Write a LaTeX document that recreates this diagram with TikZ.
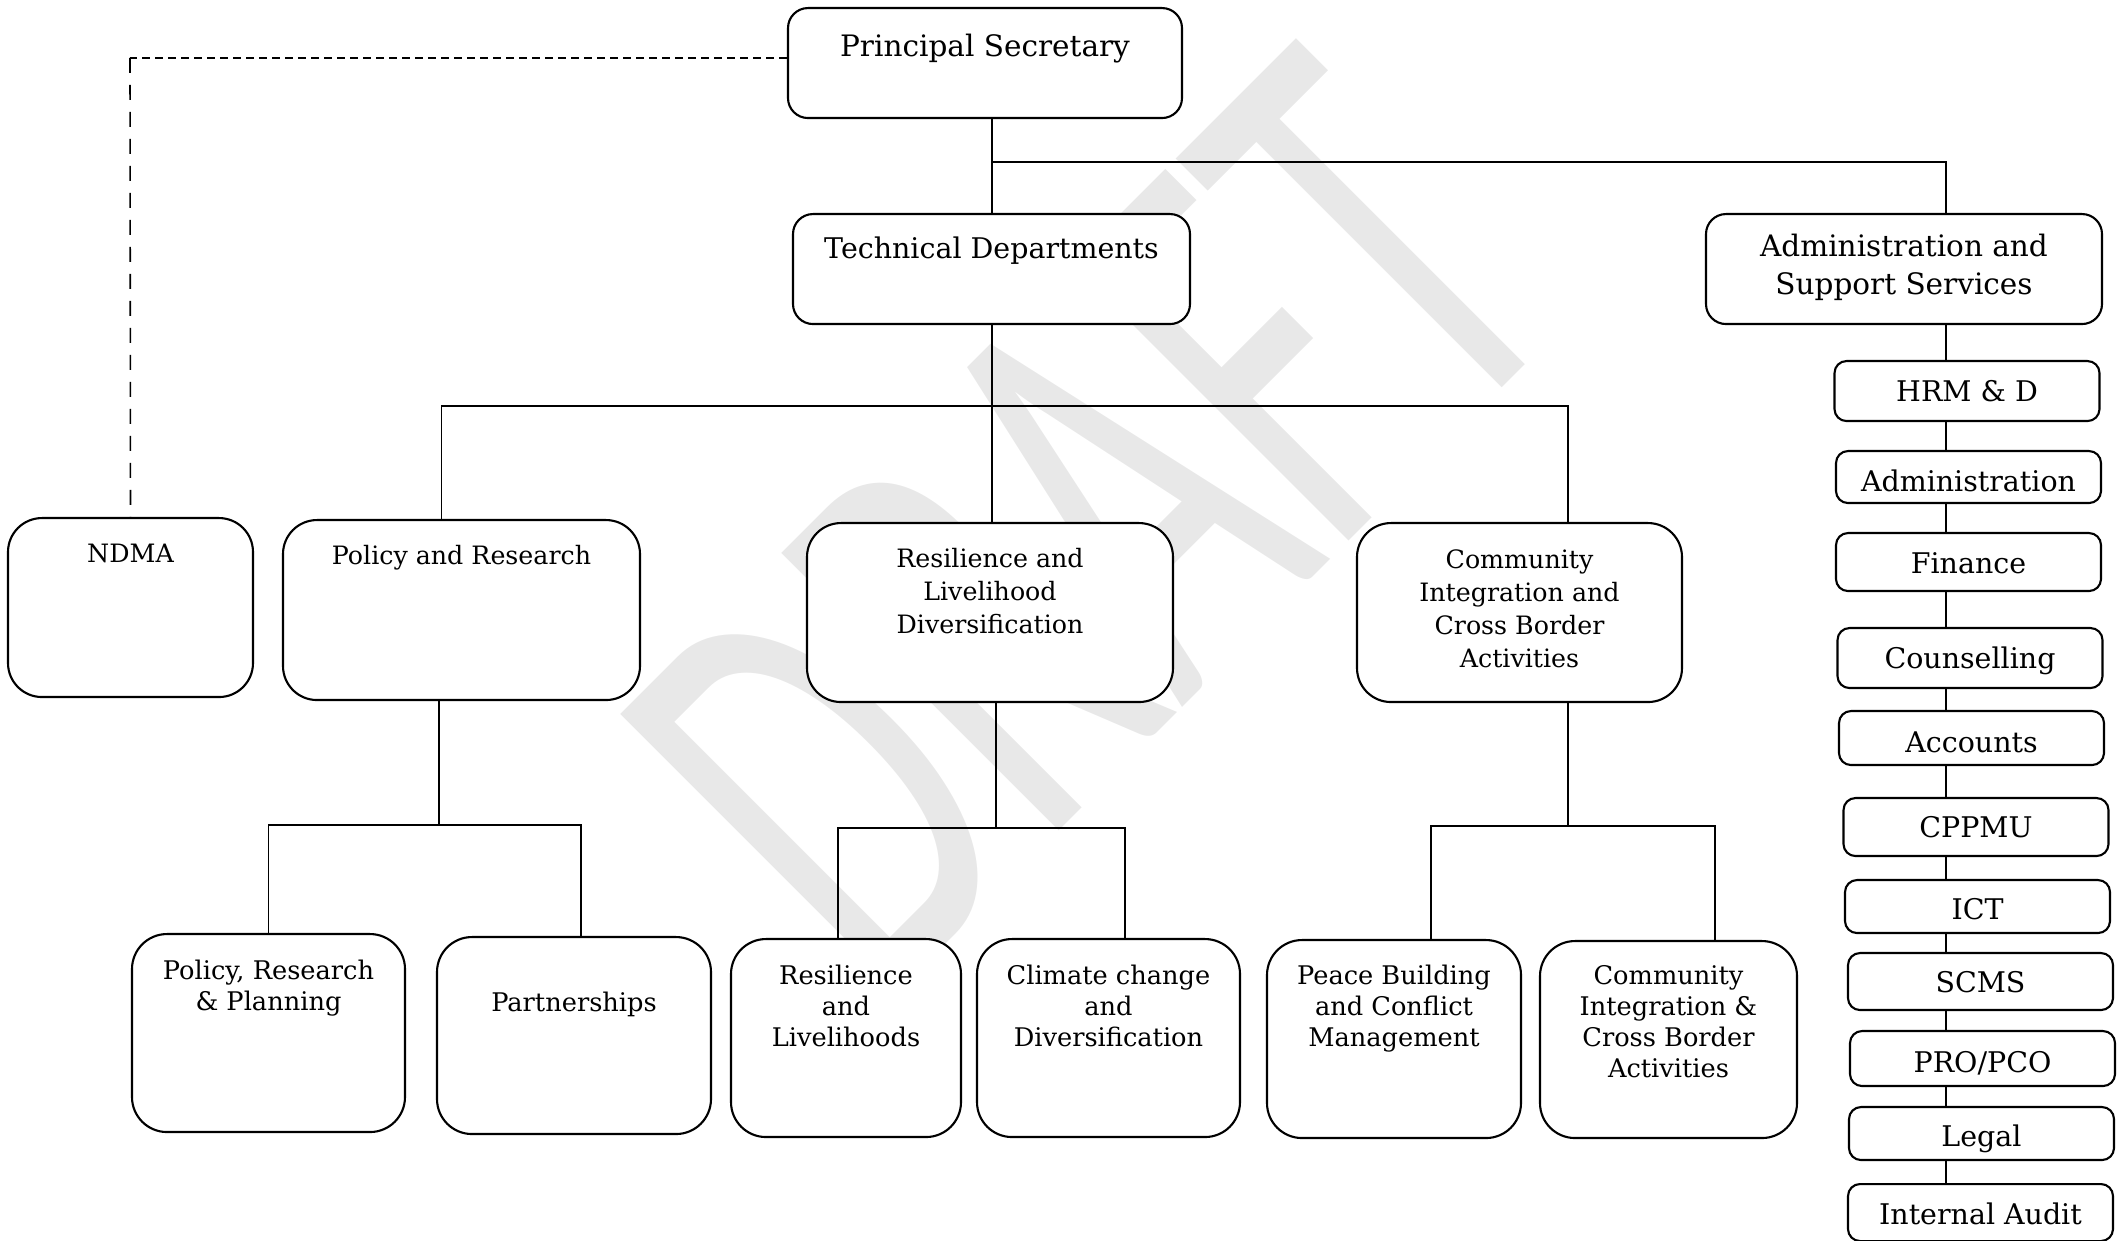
\documentclass[tikz,border=0pt]{standalone}
\usepackage{fontspec}
\setmainfont{DejaVu Serif}
\newfontfamily\wmfont{Carlito}

% lines hang from the first baseline
\newcommand{\boxtext}[1]{\begin{tabular}[t]{@{}c@{}}#1\end{tabular}}

\tikzset{
  topbox/.style={draw, fill=white, line width=0.6pt, rounded corners=2mm, anchor=north, inner sep=0pt,
    font=\fontsize{8.4}{10.8}\selectfont},
  midbox/.style={topbox, rounded corners=3.4mm, font=\fontsize{7.2}{9.4}\selectfont},
  lowbox/.style={topbox, rounded corners=3.5mm, font=\fontsize{7.3}{8.9}\selectfont},
  unit/.style={draw, fill=white, line width=0.6pt, rounded corners=1.2mm, anchor=north, inner sep=0pt, minimum width=26.5mm, font=\fontsize{8.1}{9}\selectfont},
}

\begin{document}
\begin{tikzpicture}[x=0.1mm, y=-0.1mm, line width=0.45pt]
    \useasboundingbox (0,0) rectangle (2119,1241);
    % Watermark
    \node[rotate=45, xscale=0.6, anchor=base, inner sep=0pt, text=black!9, font=\wmfont\fontsize{174}{174}\selectfont] (wm) at (1229,661) {DRAFT};
    % Connectors
    \coordinate (nd) at (130,58);
    \coordinate (spine) at (1946,0);
    \coordinate (j1) at (992,162);
    \coordinate (j2) at (992,406);
    \coordinate (j3) at (439,825);
    \coordinate (j4) at (996,828);
    \coordinate (j5) at (1568,826);
    % Top level
    \node[topbox, minimum width=39.4mm, text height=4.8mm, text depth=6.2mm] (ps) at (985,7) {Principal Secretary};
    \node[topbox, minimum width=39.7mm, text height=4.4mm, text depth=6.6mm, font=\fontsize{8.1}{10.8}\selectfont] (td) at (991.5,213) {Technical Departments};
    \node[topbox, minimum width=39.6mm, text height=4.2mm, text depth=6.8mm] (ass) at (1904,213) {\boxtext{Administration and\\Support Services}};
    % Departments
    \node[midbox, minimum width=24.5mm, text height=4.4mm, text depth=13.5mm] (ndma) at (130.5,517) {NDMA};
    \node[midbox, minimum width=35.7mm, text height=4.4mm, text depth=13.6mm] (pr) at (461.5,519) {Policy and Research};
    \node[midbox, minimum width=36.6mm, text height=4.4mm, text depth=13.5mm] (rld) at (990,522) {\boxtext{Resilience and\\Livelihood\\Diversification}};
    \node[midbox, minimum width=32.5mm, text height=4.5mm, text depth=13.4mm] (cic) at (1519.5,522) {\boxtext{Community\\Integration and\\Cross Border\\Activities}};
    % Divisions
    \node[lowbox, minimum width=27.3mm, text height=4.5mm, text depth=15.3mm] (prp) at (268.5,933) {\boxtext{Policy, Research\\\& Planning}};
    \node[lowbox, minimum width=27.4mm, text height=7.4mm, text depth=12.3mm] (pa) at (574,936) {Partnerships};
    \node[lowbox, minimum width=23mm, text height=4.5mm, text depth=15.3mm] (rl) at (846,938) {\boxtext{Resilience\\and\\Livelihoods}};
    \node[lowbox, minimum width=26.3mm, text height=4.5mm, text depth=15.3mm] (ccd) at (1108.5,938) {\boxtext{Climate change\\and\\Diversification}};
    \node[lowbox, minimum width=25.4mm, text height=4.4mm, text depth=15.4mm] (pbc) at (1394,939) {\boxtext{Peace Building\\and Conflict\\Management}};
    \node[lowbox, minimum width=25.7mm, text height=4.3mm, text depth=15.4mm] (ci2) at (1668.5,940) {\boxtext{Community\\Integration \&\\Cross Border\\Activities}};
    % Support units
    \foreach \name/\cx/\cy/\th/\td/\txt in {hrm/1967/360/4.0/2.0/{HRM \& D}, adm/1968.5/450/4.0/1.2/Administration,
        fin/1968.5/532/4.0/1.8/Finance, cou/1970/627/4.0/2.0/Counselling, acc/1971.5/710/4.1/1.3/Accounts,
        cpp/1976/797/3.9/1.9/CPPMU, ict/1977.5/879/3.9/1.4/ICT, scm/1980.5/952/3.9/1.8/SCMS,
        pro/1982.5/1030/4.1/1.4/{PRO/PCO}, leg/1981.5/1106/3.9/1.4/Legal, ia/1980.5/1183/4.0/1.7/{Internal Audit}}
        \node[unit, text height=\th mm, text depth=\td mm] (\name) at (\cx,\cy) {\txt};
    % Lines
    \draw[dash pattern=on 0.8mm off 0.5mm] (ps.west |- nd) -- (nd);
    \draw[dash pattern=on 1.5mm off 1.2mm] (nd) -- (ndma.north);
    \draw (ps.south -| j1) -- (td.north -| j1);
    \draw (j1) -| (ass.north -| spine);
    \foreach \a/\b in {ass/hrm, hrm/adm, adm/fin, fin/cou, cou/acc, acc/cpp, cpp/ict, ict/scm, scm/pro, pro/leg, leg/ia}
        \draw (\a.south -| spine) -- (\b.north -| spine);
    \draw (td.south -| j2) -- (j2) -- (rld.north -| j2);
    \draw ([xshift=-2mm]pr.north) |- (j2) -| ([xshift=4.85mm]cic.north);
    \draw (pr.south -| j3) -- (j3);
    \draw (prp.north) |- (j3) -| ([xshift=0.7mm]pa.north);
    \draw (rld.south -| j4) -- (j4);
    \draw ([xshift=-0.8mm]rl.north) |- (j4) -| ([xshift=1.65mm]ccd.north);
    \draw (cic.south -| j5) -- (j5);
    \draw ([xshift=3.7mm]pbc.north) |- (j5) -| ([xshift=4.65mm]ci2.north);
\end{tikzpicture}
\end{document}
